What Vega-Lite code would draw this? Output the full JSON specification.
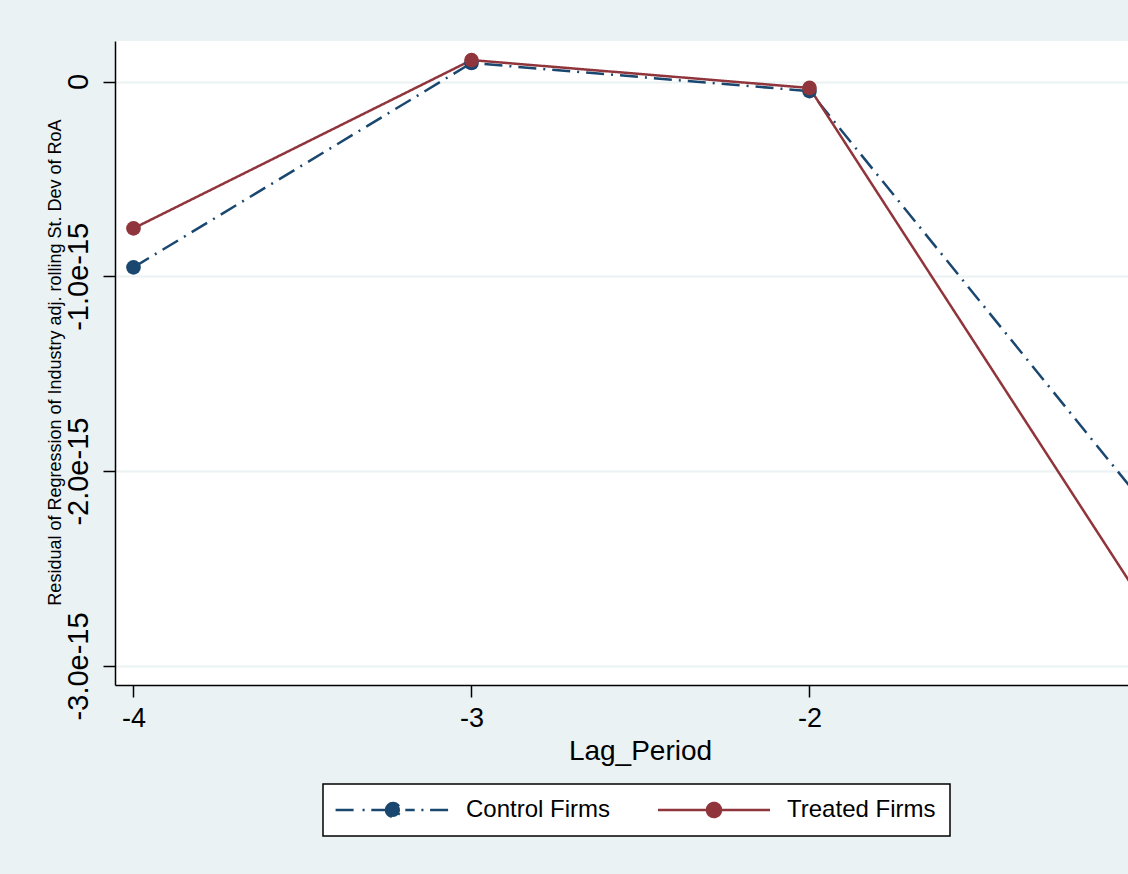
{
  "$schema": "https://vega.github.io/schema/vega-lite/v6.json",
  "width": 1013,
  "height": 644,
  "autosize": {"type": "none"},
  "padding": {"left": 115, "top": 41, "right": 0, "bottom": 189},
  "background": "#EAF2F3",
  "config": {
    "view": {"fill": "white", "stroke": null},
    "font": "Liberation Sans"
  },
  "data": {
    "values": [
      {"lag": -4, "group": "Control Firms", "value": -9.54e-16},
      {"lag": -3, "group": "Control Firms", "value": 0.95e-16},
      {"lag": -2, "group": "Control Firms", "value": -0.49e-16},
      {"lag": -1, "group": "Control Firms", "value": -2.19e-15},
      {"lag": -4, "group": "Treated Firms", "value": -7.54e-16},
      {"lag": -3, "group": "Treated Firms", "value": 1.10e-16},
      {"lag": -2, "group": "Treated Firms", "value": -0.33e-16},
      {"lag": -1, "group": "Treated Firms", "value": -2.71e-15}
    ]
  },
  "encoding": {
    "x": {
      "field": "lag",
      "type": "quantitative",
      "scale": {"domain": [-4.0547, -1.0577], "nice": false, "zero": false},
      "axis": {
        "values": [-4, -3, -2],
        "labelExpr": "'-' + abs(datum.value)",
        "labelFontSize": 27,
        "labelColor": "black",
        "labelPadding": 8,
        "tickSize": 12,
        "tickColor": "black",
        "tickWidth": 1.5,
        "domainColor": "black",
        "domainWidth": 1.5,
        "grid": false,
        "title": "Lag_Period",
        "titleFontSize": 28,
        "titleFontWeight": "normal",
        "titleColor": "black",
        "titleAlign": "center",
        "titleBaseline": "middle",
        "titleX": 525,
        "titleY": 66
      }
    },
    "y": {
      "field": "value",
      "type": "quantitative",
      "scale": {"domain": [-3.098e-15, 0.208e-15], "nice": false, "zero": false},
      "axis": {
        "values": [0, -1e-15, -2e-15, -3e-15],
        "labelExpr": "datum.value > -5e-16 ? '0' : '-' + format(-datum.value * 1e15, '.1f') + 'e-15'",
        "labelAngle": -90,
        "labelAlign": "center",
        "labelBaseline": "bottom",
        "labelFontSize": 29,
        "labelColor": "black",
        "labelPadding": 10,
        "labelFlush": false,
        "labelOverlap": false,
        "tickSize": 12,
        "tickColor": "black",
        "tickWidth": 1.5,
        "domainColor": "black",
        "domainWidth": 1.5,
        "grid": true,
        "gridColor": "#EAF2F3",
        "gridWidth": 2,
        "title": "Residual of Regression of Industry adj. rolling St. Dev of RoA",
        "titleFontSize": 18,
        "titleFontWeight": "normal",
        "titleColor": "black",
        "titleAngle": -90,
        "titleAlign": "center",
        "titleBaseline": "middle",
        "titleX": -60,
        "titleY": 321
      }
    },
    "color": {
      "field": "group",
      "type": "nominal",
      "scale": {"domain": ["Control Firms", "Treated Firms"], "range": ["#1a476f", "#90353b"]},
      "legend": {
        "orient": "none",
        "legendX": 208,
        "legendY": 743,
        "direction": "horizontal",
        "title": null,
        "fillColor": "white",
        "strokeColor": "black",
        "padding": 14,
        "labelFontSize": 24,
        "labelColor": "black",
        "labelOffset": 61,
        "symbolSize": 196,
        "symbolStrokeWidth": 2.5,
        "symbolOffset": 44,
        "columnPadding": 42,
        "encode": {
          "legend": {"update": {"strokeWidth": {"value": 1.5}}},
          "symbols": {
            "update": {
              "shape": {"signal": "datum.value == 'Control Firms' ? 'M-8.2,0L-5.3,0M-4.35,0L-4.05,0M-3.1,0L3.1,0M4.05,0L4.35,0M5.3,0L8.2,0M-1,0A1,1,0,1,1,1,0A1,1,0,1,1,-1,0Z' : 'M-8,0L8,0M-1,0A1,1,0,1,1,1,0A1,1,0,1,1,-1,0Z'"},
              "fill": {"scale": "color", "field": "value"},
              "stroke": {"scale": "color", "field": "value"},
              "strokeWidth": {"value": 2.5},
              "opacity": {"value": 1}
            }
          }
        }
      }
    }
  },
  "layer": [
    {
      "mark": {"type": "line", "clip": true, "strokeWidth": 2.5},
      "encoding": {
        "strokeDash": {
          "field": "group",
          "type": "nominal",
          "scale": {"domain": ["Control Firms", "Treated Firms"], "range": [[18, 7, 2, 7], [1, 0]]},
          "legend": null
        }
      }
    },
    {
      "mark": {"type": "point", "filled": true, "opacity": 1, "size": 215, "clip": true}
    }
  ]
}
